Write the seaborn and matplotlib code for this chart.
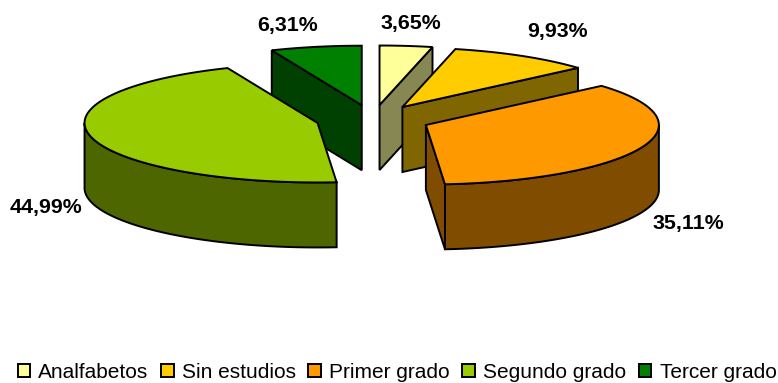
import numpy as np
import matplotlib
matplotlib.use("Agg")
import matplotlib.pyplot as plt
import seaborn as sns
from matplotlib.patches import Patch

# datos
categorias = ["Analfabetos", "Sin estudios", "Primer grado", "Segundo grado", "Tercer grado"]
porcentajes = [3.65, 9.93, 35.11, 44.99, 6.31]
colores = ["#FFFF99", "#FFCC00", "#FF9900", "#99CC00", "#008000"]

sns.set_theme(style="white")
plt.rcParams["font.family"] = ["Liberation Sans", "DejaVu Sans"]

# geometria del pastel en pixeles
CX, CY = 373, 119.5
RX, RY = 233, 59.5
ALTO = 65
EXPLOTA = 0.245
LW = 1.4
pos_etiquetas = [(411, 23), (558, 32), (688, 224), (46, 208), (288, 25)]
orden = [0, 1, 4, 2, 3]

fig = plt.figure(figsize=(7.78, 3.83), dpi=100)
ax = fig.add_axes([0, 0, 1, 1])
ax.set_xlim(0, 778)
ax.set_ylim(383, 0)
ax.axis("off")

paleta = sns.color_palette(colores)
fracciones = np.array(porcentajes) / sum(porcentajes) * 360
fin = np.cumsum(fracciones)
inicio = fin - fracciones


def borde(a, ox, oy):
    a = np.radians(a)
    return ox + RX * np.sin(a), oy - RY * np.cos(a)


def pared(xs, ys, color, z):
    xs = np.asarray(xs)
    ys = np.asarray(ys)
    ax.fill(np.r_[xs, xs[::-1]], np.r_[ys, ys[::-1] + ALTO], facecolor=color,
            edgecolor="black", lw=LW, joinstyle="miter", zorder=z)


for z, i in enumerate(orden):
    a0, a1 = inicio[i], fin[i]
    medio = np.radians((a0 + a1) / 2)
    ox = CX + EXPLOTA * RX * np.sin(medio)
    oy = CY - EXPLOTA * RY * np.cos(medio)
    oscuro = tuple(np.array(paleta[i]) * 0.5)
    if i == 0:
        # el amarillo claro se ve grisaceo en el lateral
        oscuro = (0.53, 0.53, 0.33)

    if 180 < a0 < 360:
        x, y = borde(a0, ox, oy)
        pared([ox, x], [oy, y], oscuro, z * 3)
    if 0 < a1 < 180:
        x, y = borde(a1, ox, oy)
        pared([ox, x], [oy, y], oscuro, z * 3)
    b0, b1 = max(a0, 90), min(a1, 270)
    if b1 > b0:
        xs, ys = borde(np.linspace(b0, b1, 80), ox, oy)
        pared(xs, ys, oscuro, z * 3 + 1)

    xs, ys = borde(np.linspace(a0, a1, 120), ox, oy)
    ax.fill(np.r_[ox, xs], np.r_[oy, ys], facecolor=paleta[i], edgecolor="black",
            lw=LW, joinstyle="miter", zorder=z * 3 + 2)

for val, (x, y) in zip(porcentajes, pos_etiquetas):
    ax.text(x, y, f"{val:.2f}%".replace(".", ","), ha="center", va="center",
            fontsize=15.4, fontweight="bold", color="black", zorder=50)

handles = [Patch(facecolor=c, edgecolor="black", lw=LW) for c in paleta]
ax.legend(handles, categorias, ncol=5, frameon=False, fontsize=15, labelcolor="black",
          loc="lower left", bbox_to_anchor=(17.5 / 778, 1.5 / 383), borderpad=0, borderaxespad=0,
          handlelength=0.6, handleheight=0.6, handletextpad=0.4, columnspacing=0.6)

fig.savefig("out.png", dpi=100)
